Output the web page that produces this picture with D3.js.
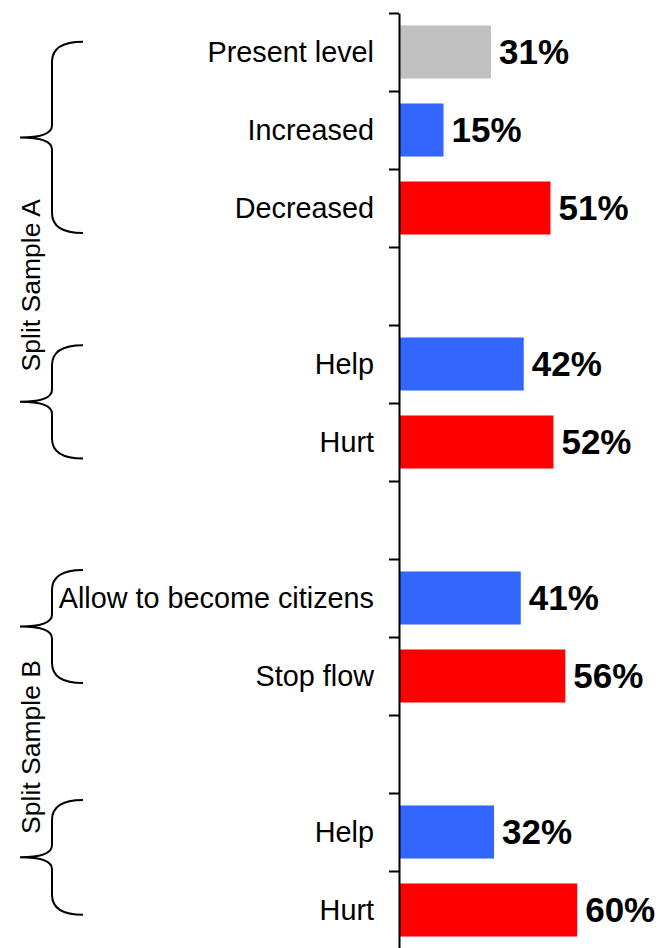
<!DOCTYPE html>
<html>
<head>
<meta charset="utf-8">
<script src="https://cdn.jsdelivr.net/npm/d3@7"></script>
<style>
  html, body { margin: 0; padding: 0; background: #fff; }
  svg { display: block; }
  text { font-family: "Liberation Sans", Arial, sans-serif; fill: #000; }
</style>
</head>
<body>
<svg id="chart" width="661" height="948"></svg>
<script>
// ---- data ----
const categories = ["Present level", "Increased", "Decreased", "", "Help", "Hurt", "", "Allow to become citizens", "Stop flow", "", "Help", "Hurt"];
const values = [31, 15, 51, null, 42, 52, null, 41, 56, null, 32, 60];
const tones = ["neutral", "up", "down", null, "up", "down", null, "up", "down", null, "up", "down"];
const groupLabels = ["Split Sample A", "Split Sample B"];
const groupCenters = [3.49, 9.41];          // in slot units
const braceStarts = [0.37, 4.26, 7.14, 10.09]; // in slot units
const braceEnds = [2.82, 5.71, 8.59, 11.56];

const toneColor = { neutral: "#C0C0C0", up: "#3366FF", down: "#FF0000" };

// ---- layout ----
const svg = d3.select("#chart");
const axisX = 399;
const plotTop = 13, plotBottom = 949;
const n = categories.length;

const x = d3.scaleLinear().domain([0, 100]).range([axisX, axisX + 297]);
const y = d3.scaleBand().domain(d3.range(n)).range([plotTop, plotBottom])
  .paddingInner(0.32).paddingOuter(0.16);
const slot = d3.scaleLinear().domain([0, n]).range([plotTop, plotBottom]);

const rows = categories.map((c, i) => ({ i, c, v: values[i], t: tones[i] }));
const barRows = rows.filter(d => d.v != null);

// bars
svg.append("g").selectAll("rect").data(barRows).join("rect")
  .attr("x", x(0))
  .attr("y", d => y(d.i))
  .attr("width", d => x(d.v) - x(0))
  .attr("height", y.bandwidth())
  .attr("fill", d => toneColor[d.t]);

// value labels
svg.append("g").selectAll("text").data(barRows).join("text")
  .attr("x", d => x(d.v) + 8)
  .attr("y", d => y(d.i) + y.bandwidth() / 2)
  .attr("dy", "0.35em")
  .attr("font-size", 35)
  .attr("font-weight", "bold")
  .text(d => d.v + "%");

// category labels
svg.append("g").selectAll("text").data(barRows).join("text")
  .attr("x", axisX - 25)
  .attr("y", d => y(d.i) + y.bandwidth() / 2)
  .attr("dy", "0.34em")
  .attr("text-anchor", "end")
  .attr("font-size", 28.8)
  .text(d => d.c);

// axis with ticks at slot boundaries
const axis = d3.axisLeft(slot).tickValues(d3.range(n + 1)).tickFormat("").tickSize(10).tickSizeOuter(0);
const ag = svg.append("g").attr("transform", `translate(${axisX},0)`).call(axis);
ag.selectAll("path, line").attr("stroke", "#000").attr("stroke-width", 2);

// braces
const xr = 83, xv = 52, xt = 20, rEnd = 20, rTip = 12;
function bracePath(y0, y1) {
  const ym = (y0 + y1) / 2;
  return `M${xr},${y0} Q${xv},${y0} ${xv},${y0 + rEnd} L${xv},${ym - rTip} Q${xv},${ym} ${xt},${ym} ` +
         `Q${xv},${ym} ${xv},${ym + rTip} L${xv},${y1 - rEnd} Q${xv},${y1} ${xr},${y1}`;
}
svg.append("g").selectAll("path").data(d3.range(braceStarts.length)).join("path")
  .attr("d", k => bracePath(slot(braceStarts[k]), slot(braceEnds[k])))
  .attr("fill", "none")
  .attr("stroke", "#000")
  .attr("stroke-width", 2);

// group labels (rotated)
svg.append("g").selectAll("text").data(groupLabels).join("text")
  .attr("transform", (d, k) => `translate(40,${slot(groupCenters[k])}) rotate(-90)`)
  .attr("text-anchor", "middle")
  .attr("font-size", 26.5)
  .text(d => d);
</script>
</body>
</html>
